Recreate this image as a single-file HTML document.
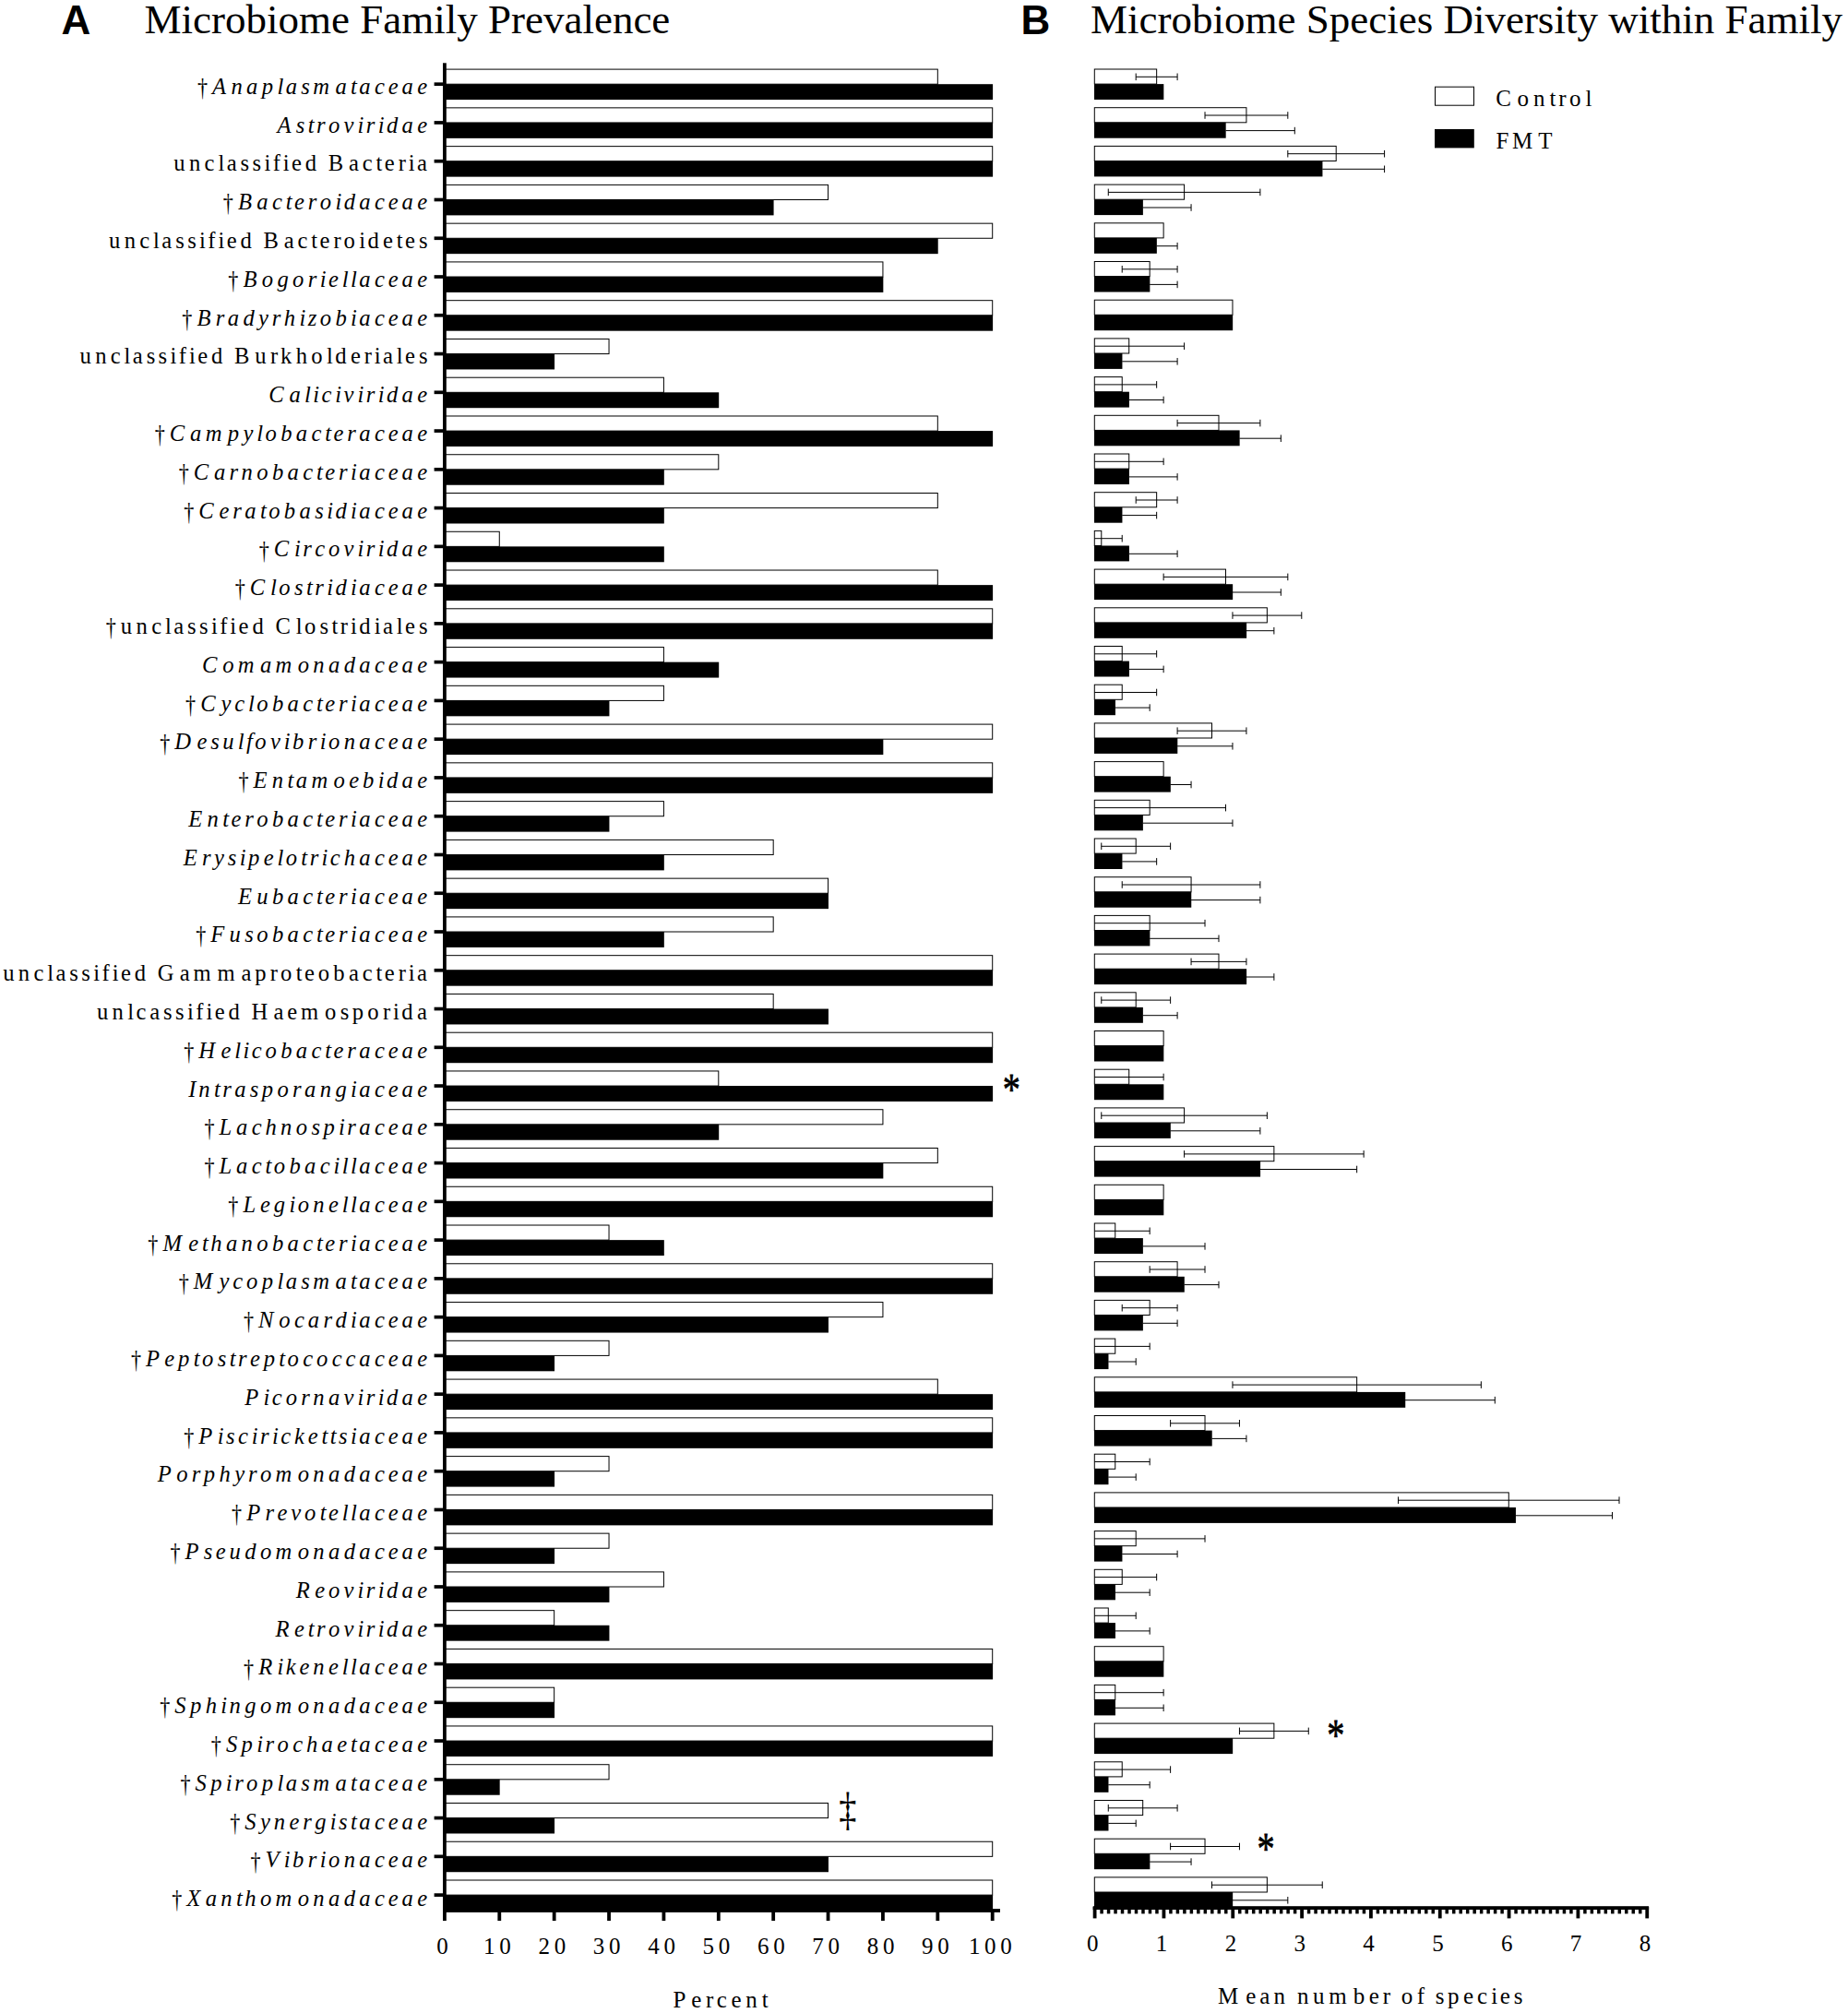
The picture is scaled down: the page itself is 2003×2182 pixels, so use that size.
<!DOCTYPE html>
<html><head><meta charset="utf-8"><title>Microbiome Family Prevalence / Species Diversity</title>
<style>html,body{margin:0;padding:0;background:#fff}svg{display:block}text{font-family:"Liberation Serif",serif;fill:#000}text{font-variant-ligatures:none;font-kerning:none}.l{font-size:24.6px}.i{font-style:italic}.t{font-size:25px}.h{font-size:45px}.p{font-family:"Liberation Sans",sans-serif;font-weight:bold;font-size:44px}.w{fill:#fff;stroke:#000;stroke-width:1}.k{fill:#000}.e{stroke:#000;stroke-width:1;fill:none}.s{font-size:44px;stroke:#000;stroke-width:.7px}</style></head><body>
<svg width="2003" height="2182" viewBox="0 0 2003 2182">
<rect width="2003" height="2182" fill="#fff"/>
<text class="p" x="66.5" y="37">A</text>
<text class="h" x="156.5" y="36.3">Microbiome Family Prevalence</text>
<text class="p" x="1106.5" y="37">B</text>
<text class="h" x="1182" y="36.3">Microbiome Species Diversity within Family</text>
<text class="l" transform="translate(219.56 84.83) scale(0.9 1.125) translate(-219.56 -84.83)" x="213.41" y="101.9">†</text>
<text class="l" y="101.9"><tspan class="i" x="230.07 250.43 267.1 283.76 300.43 309.69 326.35 339.32 363.39 380.06 389.32 405.98 420.78 435.57 452.23">Anaplasmataceae</tspan></text>
<rect class="w" x="481.9" y="75.1" width="534.42" height="16.1"/>
<rect class="k" x="481.9" y="91.2" width="594.2" height="16.9"/>
<rect class="w" x="1186.3" y="75" width="67.35" height="16.1"/>
<rect class="k" x="1186" y="91.1" width="75.33" height="16.9"/>
<path class="e" d="M1231.2 83.3H1276.1M1276.1 79.5V87.1M1231.2 79.5V87.1"/>
<text class="l" y="143.69"><tspan class="i" x="300.39 320.75 333.72 342.98 355.95 372.62 387.41 396.67 409.64 418.9 435.57 452.23">Astroviridae</tspan></text>
<rect class="w" x="481.9" y="116.86" width="593.8" height="16.1"/>
<rect class="k" x="481.9" y="132.96" width="594.2" height="16.9"/>
<rect class="w" x="1186.3" y="116.7" width="164.63" height="16.1"/>
<rect class="k" x="1186" y="132.8" width="142.68" height="16.9"/>
<path class="e" d="M1306.03 125H1395.82M1395.82 121.2V128.8M1306.03 121.2V128.8"/>
<path class="e" d="M1328.48 141.6H1403.31M1403.31 137.8V145.4"/>
<text class="l" y="185.49"><tspan x="188.26 204.92 221.59 236.38 245.64 260.44 273.41 286.38 295.64 306.74 316 330.79 347.45 355.79 378.02 392.81 407.6 416.86 431.66 442.76 452.02">unclassified Bacteria</tspan></text>
<rect class="w" x="481.9" y="158.63" width="593.8" height="16.1"/>
<rect class="k" x="481.9" y="174.73" width="594.2" height="16.9"/>
<rect class="w" x="1186.3" y="158.4" width="261.9" height="16.1"/>
<rect class="k" x="1186" y="174.5" width="247.44" height="16.9"/>
<path class="e" d="M1395.82 166.7H1500.59M1500.59 162.9V170.5M1395.82 162.9V170.5"/>
<path class="e" d="M1433.24 183.3H1500.59M1500.59 179.5V187.1"/>
<text class="l" transform="translate(247.37 210.21) scale(0.9 1.125) translate(-247.37 -210.21)" x="241.22" y="227.28">†</text>
<text class="l" y="227.28"><tspan class="i" x="257.88 278.24 294.91 309.7 318.96 333.76 346.73 363.39 372.65 389.32 405.98 420.78 435.57 452.23">Bacteroidaceae</tspan></text>
<rect class="w" x="481.9" y="200.39" width="415.66" height="16.1"/>
<rect class="k" x="481.9" y="216.49" width="356.68" height="16.9"/>
<rect class="w" x="1186.3" y="200.1" width="97.28" height="16.1"/>
<rect class="k" x="1186" y="216.2" width="52.88" height="16.9"/>
<path class="e" d="M1201.27 208.4H1365.89M1365.89 204.6V212.2M1201.27 204.6V212.2"/>
<path class="e" d="M1238.68 225H1291.06M1291.06 221.2V228.8"/>
<text class="l" y="269.07"><tspan x="117.98 134.64 151.31 166.1 175.36 190.16 203.13 216.1 225.36 236.46 245.72 260.51 277.18 285.51 307.74 322.53 337.33 346.59 361.38 372.48 389.14 398.4 415.07 429.86 439.12 453.92">unclassified Bacteroidetes</tspan></text>
<rect class="w" x="481.9" y="242.16" width="593.8" height="16.1"/>
<rect class="k" x="481.9" y="258.26" width="534.82" height="16.9"/>
<rect class="w" x="1186.3" y="241.8" width="74.83" height="16.1"/>
<rect class="k" x="1186" y="257.9" width="67.85" height="16.9"/>
<path class="e" d="M1253.65 266.7H1276.1M1276.1 262.9V270.5"/>
<text class="l" transform="translate(252.9 293.8) scale(0.9 1.125) translate(-252.9 -293.8)" x="246.75" y="310.87">†</text>
<text class="l" y="310.87"><tspan class="i" x="263.42 283.78 300.44 317.11 333.77 346.74 356 370.8 380.06 389.32 405.98 420.78 435.57 452.23">Bogoriellaceae</tspan></text>
<rect class="w" x="481.9" y="283.92" width="475.04" height="16.1"/>
<rect class="k" x="481.9" y="300.02" width="475.44" height="16.9"/>
<rect class="w" x="1186.3" y="283.5" width="59.86" height="16.1"/>
<rect class="k" x="1186" y="299.6" width="60.36" height="16.9"/>
<path class="e" d="M1216.23 291.8H1276.1M1276.1 288V295.6M1216.23 288V295.6"/>
<path class="e" d="M1246.16 308.4H1276.1M1276.1 304.6V312.2"/>
<text class="l" transform="translate(202.89 335.59) scale(0.9 1.125) translate(-202.89 -335.59)" x="196.74" y="352.66">†</text>
<text class="l" y="352.66"><tspan class="i" x="213.41 233.77 246.74 263.4 280.07 294.86 307.83 324.5 333.76 346.73 363.39 380.06 389.32 405.98 420.78 435.57 452.23">Bradyrhizobiaceae</tspan></text>
<rect class="w" x="481.9" y="325.68" width="593.8" height="16.1"/>
<rect class="k" x="481.9" y="341.78" width="594.2" height="16.9"/>
<rect class="w" x="1186.3" y="325.2" width="149.66" height="16.1"/>
<rect class="k" x="1186" y="341.3" width="150.16" height="16.9"/>
<text class="l" y="394.45"><tspan x="86.47 103.14 119.8 134.6 143.86 158.65 171.62 184.59 193.85 204.95 214.21 229 245.67 254 276.23 292.9 304 320.66 337.33 353.99 363.25 379.92 394.71 405.81 415.07 429.86 439.12 453.92">unclassified Burkholderiales</tspan></text>
<rect class="w" x="481.9" y="367.45" width="178.14" height="16.1"/>
<rect class="k" x="481.9" y="383.55" width="119.16" height="16.9"/>
<rect class="w" x="1186.3" y="366.9" width="37.41" height="16.1"/>
<rect class="k" x="1186" y="383" width="30.43" height="16.9"/>
<path class="e" d="M1186.3 375.2H1283.58M1283.58 371.4V379"/>
<path class="e" d="M1216.23 391.8H1276.1M1276.1 388V395.6"/>
<text class="l" y="436.24"><tspan class="i" x="291.15 313.38 330.05 339.31 348.57 363.36 372.62 387.41 396.67 409.64 418.9 435.57 452.23">Caliciviridae</tspan></text>
<rect class="w" x="481.9" y="409.21" width="237.52" height="16.1"/>
<rect class="k" x="481.9" y="425.31" width="297.3" height="16.9"/>
<rect class="w" x="1186.3" y="408.6" width="29.93" height="16.1"/>
<rect class="k" x="1186" y="424.7" width="37.91" height="16.9"/>
<path class="e" d="M1186.3 416.9H1253.65M1253.65 413.1V420.7"/>
<path class="e" d="M1223.71 433.5H1261.13M1261.13 429.7V437.3"/>
<text class="l" transform="translate(173.3 460.97) scale(0.9 1.125) translate(-173.3 -460.97)" x="167.15" y="478.04">†</text>
<text class="l" y="478.04"><tspan class="i" x="183.82 206.05 222.72 246.79 263.45 278.24 287.5 304.17 320.83 337.5 352.29 361.55 376.35 389.32 405.98 420.78 435.57 452.23">Campylobacteraceae</tspan></text>
<rect class="w" x="481.9" y="450.98" width="534.42" height="16.1"/>
<rect class="k" x="481.9" y="467.08" width="594.2" height="16.9"/>
<rect class="w" x="1186.3" y="450.3" width="134.69" height="16.1"/>
<rect class="k" x="1186" y="466.4" width="157.64" height="16.9"/>
<path class="e" d="M1276.1 458.6H1365.89M1365.89 454.8V462.4M1276.1 454.8V462.4"/>
<path class="e" d="M1343.44 475.2H1388.34M1388.34 471.4V479"/>
<text class="l" transform="translate(199.2 502.76) scale(0.9 1.125) translate(-199.2 -502.76)" x="193.05" y="519.83">†</text>
<text class="l" y="519.83"><tspan class="i" x="209.71 231.94 248.61 261.58 278.24 294.91 311.57 328.24 343.03 352.29 367.09 380.06 389.32 405.98 420.78 435.57 452.23">Carnobacteriaceae</tspan></text>
<rect class="w" x="481.9" y="492.74" width="296.9" height="16.1"/>
<rect class="k" x="481.9" y="508.84" width="237.92" height="16.9"/>
<rect class="w" x="1186.3" y="492" width="37.41" height="16.1"/>
<rect class="k" x="1186" y="508.1" width="37.91" height="16.9"/>
<path class="e" d="M1186.3 500.3H1261.13M1261.13 496.5V504.1"/>
<path class="e" d="M1223.71 516.9H1276.1M1276.1 513.1V520.7"/>
<text class="l" transform="translate(204.73 544.55) scale(0.9 1.125) translate(-204.73 -544.55)" x="198.58" y="561.62">†</text>
<text class="l" y="561.62"><tspan class="i" x="215.25 237.48 252.27 265.24 281.91 291.17 307.83 324.5 341.16 354.13 363.39 380.06 389.32 405.98 420.78 435.57 452.23">Ceratobasidiaceae</tspan></text>
<rect class="w" x="481.9" y="534.5" width="534.42" height="16.1"/>
<rect class="k" x="481.9" y="550.6" width="237.92" height="16.9"/>
<rect class="w" x="1186.3" y="533.7" width="67.35" height="16.1"/>
<rect class="k" x="1186" y="549.8" width="30.43" height="16.9"/>
<path class="e" d="M1231.2 542H1276.1M1276.1 538.2V545.8M1231.2 538.2V545.8"/>
<path class="e" d="M1216.23 558.6H1253.65M1253.65 554.8V562.4"/>
<text class="l" transform="translate(286.18 586.35) scale(0.9 1.125) translate(-286.18 -586.35)" x="280.03" y="603.42">†</text>
<text class="l" y="603.42"><tspan class="i" x="296.7 318.93 328.19 341.16 355.95 372.62 387.41 396.67 409.64 418.9 435.57 452.23">Circoviridae</tspan></text>
<rect class="w" x="481.9" y="576.27" width="59.38" height="16.1"/>
<rect class="k" x="481.9" y="592.37" width="237.92" height="16.9"/>
<rect class="w" x="1186.3" y="575.4" width="7.48" height="16.1"/>
<rect class="k" x="1186" y="591.5" width="37.91" height="16.9"/>
<path class="e" d="M1186.3 583.7H1216.23M1216.23 579.9V587.5"/>
<path class="e" d="M1223.71 600.3H1276.1M1276.1 596.5V604.1"/>
<text class="l" transform="translate(260.26 628.14) scale(0.9 1.125) translate(-260.26 -628.14)" x="254.11" y="645.21">†</text>
<text class="l" y="645.21"><tspan class="i" x="270.77 293.01 302.27 318.93 331.9 341.16 354.13 363.39 380.06 389.32 405.98 420.78 435.57 452.23">Clostridiaceae</tspan></text>
<rect class="w" x="481.9" y="618.03" width="534.42" height="16.1"/>
<rect class="k" x="481.9" y="634.13" width="594.2" height="16.9"/>
<rect class="w" x="1186.3" y="617.1" width="142.18" height="16.1"/>
<rect class="k" x="1186" y="633.2" width="150.16" height="16.9"/>
<path class="e" d="M1261.13 625.4H1395.82M1395.82 621.6V629.2M1261.13 621.6V629.2"/>
<path class="e" d="M1335.96 642H1388.34M1388.34 638.2V645.8"/>
<text class="l" transform="translate(120.35 669.93) scale(0.9 1.125) translate(-120.35 -669.93)" x="114.2" y="687">†</text>
<text class="l" y="687"><tspan x="130.87 147.53 164.2 178.99 188.25 203.05 216.02 228.99 238.25 249.35 258.61 273.4 290.06 298.4 320.63 329.89 346.55 359.52 368.78 379.88 389.14 405.81 415.07 429.86 439.12 453.92">unclassified Clostridiales</tspan></text>
<rect class="w" x="481.9" y="659.8" width="593.8" height="16.1"/>
<rect class="k" x="481.9" y="675.9" width="594.2" height="16.9"/>
<rect class="w" x="1186.3" y="658.8" width="187.07" height="16.1"/>
<rect class="k" x="1186" y="674.9" width="165.13" height="16.9"/>
<path class="e" d="M1335.96 667.1H1410.79M1410.79 663.3V670.9M1335.96 663.3V670.9"/>
<path class="e" d="M1350.93 683.7H1380.86M1380.86 679.9V687.5"/>
<text class="l" y="728.79"><tspan class="i" x="218.96 241.19 257.85 281.92 298.59 322.66 339.32 355.99 372.65 389.32 405.98 420.78 435.57 452.23">Comamonadaceae</tspan></text>
<rect class="w" x="481.9" y="701.56" width="237.52" height="16.1"/>
<rect class="k" x="481.9" y="717.66" width="297.3" height="16.9"/>
<rect class="w" x="1186.3" y="700.5" width="29.93" height="16.1"/>
<rect class="k" x="1186" y="716.6" width="37.91" height="16.9"/>
<path class="e" d="M1186.3 708.8H1253.65M1253.65 705V712.6"/>
<path class="e" d="M1223.71 725.4H1261.13M1261.13 721.6V729.2"/>
<text class="l" transform="translate(206.65 753.52) scale(0.9 1.125) translate(-206.65 -753.52)" x="200.5" y="770.59">†</text>
<text class="l" y="770.59"><tspan class="i" x="217.17 239.4 254.19 268.98 278.24 294.91 311.57 328.24 343.03 352.29 367.09 380.06 389.32 405.98 420.78 435.57 452.23">Cyclobacteriaceae</tspan></text>
<rect class="w" x="481.9" y="743.32" width="237.52" height="16.1"/>
<rect class="k" x="481.9" y="759.42" width="178.54" height="16.9"/>
<rect class="w" x="1186.3" y="742.2" width="29.93" height="16.1"/>
<rect class="k" x="1186" y="758.3" width="22.95" height="16.9"/>
<path class="e" d="M1186.3 750.5H1253.65M1253.65 746.7V754.3"/>
<path class="e" d="M1208.75 767.1H1246.16M1246.16 763.3V770.9"/>
<text class="l" transform="translate(178.84 795.31) scale(0.9 1.125) translate(-178.84 -795.31)" x="172.69" y="812.38">†</text>
<text class="l" y="812.38"><tspan class="i" x="189.35 213.42 228.22 241.19 257.85 267.11 276.37 293.04 307.83 317.09 333.76 346.73 355.99 372.65 389.32 405.98 420.78 435.57 452.23">Desulfovibrionaceae</tspan></text>
<rect class="w" x="481.9" y="785.09" width="593.8" height="16.1"/>
<rect class="k" x="481.9" y="801.19" width="475.44" height="16.9"/>
<rect class="w" x="1186.3" y="783.9" width="127.21" height="16.1"/>
<rect class="k" x="1186" y="800" width="90.3" height="16.9"/>
<path class="e" d="M1276.1 792.2H1350.93M1350.93 788.4V796M1276.1 788.4V796"/>
<path class="e" d="M1276.1 808.8H1335.96M1335.96 805V812.6"/>
<text class="l" transform="translate(263.99 837.11) scale(0.9 1.125) translate(-263.99 -837.11)" x="257.84" y="854.17">†</text>
<text class="l" y="854.17"><tspan class="i" x="274.5 294.86 311.53 320.79 337.45 361.52 378.19 392.98 409.64 418.9 435.57 452.23">Entamoebidae</tspan></text>
<rect class="w" x="481.9" y="826.85" width="593.8" height="16.1"/>
<rect class="k" x="481.9" y="842.95" width="594.2" height="16.9"/>
<rect class="w" x="1186.3" y="825.6" width="74.83" height="16.1"/>
<rect class="k" x="1186" y="841.7" width="82.81" height="16.9"/>
<path class="e" d="M1268.61 850.5H1291.06M1291.06 846.7V854.3"/>
<text class="l" y="895.97"><tspan class="i" x="204.2 224.55 241.22 250.48 265.27 278.24 294.91 311.57 328.24 343.03 352.29 367.09 380.06 389.32 405.98 420.78 435.57 452.23">Enterobacteriaceae</tspan></text>
<rect class="w" x="481.9" y="868.62" width="237.52" height="16.1"/>
<rect class="k" x="481.9" y="884.72" width="178.54" height="16.9"/>
<rect class="w" x="1186.3" y="867.3" width="59.86" height="16.1"/>
<rect class="k" x="1186" y="883.4" width="52.88" height="16.9"/>
<path class="e" d="M1186.3 875.6H1328.48M1328.48 871.8V879.4"/>
<path class="e" d="M1238.68 892.2H1335.96M1335.96 888.4V896"/>
<text class="l" y="937.76"><tspan class="i" x="198.63 218.99 231.96 246.75 259.72 268.98 285.65 300.44 309.7 326.37 335.63 348.6 357.86 372.65 389.32 405.98 420.78 435.57 452.23">Erysipelotrichaceae</tspan></text>
<rect class="w" x="481.9" y="910.38" width="356.28" height="16.1"/>
<rect class="k" x="481.9" y="926.48" width="237.92" height="16.9"/>
<rect class="w" x="1186.3" y="909" width="44.9" height="16.1"/>
<rect class="k" x="1186" y="925.1" width="30.43" height="16.9"/>
<path class="e" d="M1193.78 917.3H1268.61M1268.61 913.5V921.1M1193.78 913.5V921.1"/>
<path class="e" d="M1216.23 933.9H1253.65M1253.65 930.1V937.7"/>
<text class="l" y="979.55"><tspan class="i" x="257.88 278.24 294.91 311.57 328.24 343.03 352.29 367.09 380.06 389.32 405.98 420.78 435.57 452.23">Eubacteriaceae</tspan></text>
<rect class="w" x="481.9" y="952.14" width="415.66" height="16.1"/>
<rect class="k" x="481.9" y="968.24" width="416.06" height="16.9"/>
<rect class="w" x="1186.3" y="950.7" width="104.76" height="16.1"/>
<rect class="k" x="1186" y="966.8" width="105.26" height="16.9"/>
<path class="e" d="M1216.23 959H1365.89M1365.89 955.2V962.8M1216.23 955.2V962.8"/>
<path class="e" d="M1291.06 975.6H1365.89M1365.89 971.8V979.4"/>
<text class="l" transform="translate(217.73 1004.28) scale(0.9 1.125) translate(-217.73 -1004.28)" x="211.58" y="1021.35">†</text>
<text class="l" y="1021.35"><tspan class="i" x="228.25 248.61 265.27 278.24 294.91 311.57 328.24 343.03 352.29 367.09 380.06 389.32 405.98 420.78 435.57 452.23">Fusobacteriaceae</tspan></text>
<rect class="w" x="481.9" y="993.91" width="356.28" height="16.1"/>
<rect class="k" x="481.9" y="1010.01" width="237.92" height="16.9"/>
<rect class="w" x="1186.3" y="992.4" width="59.86" height="16.1"/>
<rect class="k" x="1186" y="1008.5" width="60.36" height="16.9"/>
<path class="e" d="M1186.3 1000.7H1306.03M1306.03 996.9V1004.5"/>
<path class="e" d="M1246.16 1017.3H1320.99M1320.99 1013.5V1021.1"/>
<text class="l" y="1063.14"><tspan x="3.17 19.83 36.5 51.29 60.55 75.35 88.32 101.29 110.55 121.65 130.91 145.7 162.37 170.7 194.77 209.56 235.49 261.41 276.21 292.87 303.97 320.63 329.89 344.69 361.35 378.02 392.81 407.6 416.86 431.66 442.76 452.02">unclassified Gammaproteobacteria</tspan></text>
<rect class="w" x="481.9" y="1035.67" width="593.8" height="16.1"/>
<rect class="k" x="481.9" y="1051.77" width="594.2" height="16.9"/>
<rect class="w" x="1186.3" y="1034.1" width="134.69" height="16.1"/>
<rect class="k" x="1186" y="1050.2" width="165.13" height="16.9"/>
<path class="e" d="M1291.06 1042.4H1350.93M1350.93 1038.6V1046.2M1291.06 1038.6V1046.2"/>
<path class="e" d="M1350.93 1059H1380.86M1380.86 1055.2V1062.8"/>
<text class="l" y="1104.93"><tspan x="104.92 121.58 138.25 147.51 162.3 177.09 190.06 203.04 212.3 223.39 232.65 247.45 264.11 272.45 296.52 311.31 326.1 352.03 368.69 381.66 398.33 414.99 426.09 435.35 452.02">unlcassified Haemosporida</tspan></text>
<rect class="w" x="481.9" y="1077.44" width="356.28" height="16.1"/>
<rect class="k" x="481.9" y="1093.54" width="416.06" height="16.9"/>
<rect class="w" x="1186.3" y="1075.8" width="44.9" height="16.1"/>
<rect class="k" x="1186" y="1091.9" width="52.88" height="16.9"/>
<path class="e" d="M1193.78 1084.1H1268.61M1268.61 1080.3V1087.9M1193.78 1080.3V1087.9"/>
<path class="e" d="M1238.68 1100.7H1276.1M1276.1 1096.9V1104.5"/>
<text class="l" transform="translate(204.81 1129.66) scale(0.9 1.125) translate(-204.81 -1129.66)" x="198.66" y="1146.73">†</text>
<text class="l" y="1146.73"><tspan class="i" x="215.33 239.4 254.19 263.45 272.71 287.5 304.17 320.83 337.5 352.29 361.55 376.35 389.32 405.98 420.78 435.57 452.23">Helicobacteraceae</tspan></text>
<rect class="w" x="481.9" y="1119.2" width="593.8" height="16.1"/>
<rect class="k" x="481.9" y="1135.3" width="594.2" height="16.9"/>
<rect class="w" x="1186.3" y="1117.5" width="74.83" height="16.1"/>
<rect class="k" x="1186" y="1133.6" width="75.33" height="16.9"/>
<text class="l" y="1188.52"><tspan class="i" x="204.13 215.23 231.89 241.15 254.13 270.79 283.76 300.43 317.09 330.06 346.73 363.39 380.06 389.32 405.98 420.78 435.57 452.23">Intrasporangiaceae</tspan></text>
<rect class="w" x="481.9" y="1160.96" width="296.9" height="16.1"/>
<rect class="k" x="481.9" y="1177.06" width="594.2" height="16.9"/>
<rect class="w" x="1186.3" y="1159.2" width="37.41" height="16.1"/>
<rect class="k" x="1186" y="1175.3" width="75.33" height="16.9"/>
<path class="e" d="M1186.3 1167.5H1261.13M1261.13 1163.7V1171.3"/>
<text class="l" transform="translate(226.95 1213.24) scale(0.9 1.125) translate(-226.95 -1213.24)" x="220.8" y="1230.31">†</text>
<text class="l" y="1230.31"><tspan class="i" x="237.46 256 272.66 287.46 304.12 320.79 337.45 350.42 367.09 376.35 389.32 405.98 420.78 435.57 452.23">Lachnospiraceae</tspan></text>
<rect class="w" x="481.9" y="1202.73" width="475.04" height="16.1"/>
<rect class="k" x="481.9" y="1218.83" width="297.3" height="16.9"/>
<rect class="w" x="1186.3" y="1200.9" width="97.28" height="16.1"/>
<rect class="k" x="1186" y="1217" width="82.81" height="16.9"/>
<path class="e" d="M1193.78 1209.2H1373.38M1373.38 1205.4V1213M1193.78 1205.4V1213"/>
<path class="e" d="M1268.61 1225.8H1365.89M1365.89 1222V1229.6"/>
<text class="l" transform="translate(226.98 1255.04) scale(0.9 1.125) translate(-226.98 -1255.04)" x="220.83" y="1272.1">†</text>
<text class="l" y="1272.1"><tspan class="i" x="237.49 256.03 272.69 287.49 296.75 313.41 330.08 346.74 361.54 370.8 380.06 389.32 405.98 420.78 435.57 452.23">Lactobacillaceae</tspan></text>
<rect class="w" x="481.9" y="1244.49" width="534.42" height="16.1"/>
<rect class="k" x="481.9" y="1260.59" width="475.44" height="16.9"/>
<rect class="w" x="1186.3" y="1242.6" width="194.56" height="16.1"/>
<rect class="k" x="1186" y="1258.7" width="180.09" height="16.9"/>
<path class="e" d="M1283.58 1250.9H1478.14M1478.14 1247.1V1254.7M1283.58 1247.1V1254.7"/>
<path class="e" d="M1365.89 1267.5H1470.65M1470.65 1263.7V1271.3"/>
<text class="l" transform="translate(252.9 1296.83) scale(0.9 1.125) translate(-252.9 -1296.83)" x="246.75" y="1313.9">†</text>
<text class="l" y="1313.9"><tspan class="i" x="263.42 281.95 296.75 313.41 322.67 339.34 356 370.8 380.06 389.32 405.98 420.78 435.57 452.23">Legionellaceae</tspan></text>
<rect class="w" x="481.9" y="1286.26" width="593.8" height="16.1"/>
<rect class="k" x="481.9" y="1302.36" width="594.2" height="16.9"/>
<rect class="w" x="1186.3" y="1284.3" width="74.83" height="16.1"/>
<rect class="k" x="1186" y="1300.4" width="75.33" height="16.9"/>
<text class="l" transform="translate(165.92 1338.62) scale(0.9 1.125) translate(-165.92 -1338.62)" x="159.77" y="1355.69">†</text>
<text class="l" y="1355.69"><tspan class="i" x="176.43 204.2 218.99 228.25 244.91 261.58 278.24 294.91 311.57 328.24 343.03 352.29 367.09 380.06 389.32 405.98 420.78 435.57 452.23">Methanobacteriaceae</tspan></text>
<rect class="w" x="481.9" y="1328.02" width="178.14" height="16.1"/>
<rect class="k" x="481.9" y="1344.12" width="237.92" height="16.9"/>
<rect class="w" x="1186.3" y="1326" width="22.45" height="16.1"/>
<rect class="k" x="1186" y="1342.1" width="52.88" height="16.9"/>
<path class="e" d="M1186.3 1334.3H1246.16M1246.16 1330.5V1338.1"/>
<path class="e" d="M1238.68 1350.9H1306.03M1306.03 1347.1V1354.7"/>
<text class="l" transform="translate(199.23 1380.41) scale(0.9 1.125) translate(-199.23 -1380.41)" x="193.08" y="1397.48">†</text>
<text class="l" y="1397.48"><tspan class="i" x="209.75 237.51 252.3 267.1 283.76 300.43 309.69 326.35 339.32 363.39 380.06 389.32 405.98 420.78 435.57 452.23">Mycoplasmataceae</tspan></text>
<rect class="w" x="481.9" y="1369.78" width="593.8" height="16.1"/>
<rect class="k" x="481.9" y="1385.88" width="594.2" height="16.9"/>
<rect class="w" x="1186.3" y="1367.7" width="89.8" height="16.1"/>
<rect class="k" x="1186" y="1383.8" width="97.78" height="16.9"/>
<path class="e" d="M1246.16 1376H1306.03M1306.03 1372.2V1379.8M1246.16 1372.2V1379.8"/>
<path class="e" d="M1283.58 1392.6H1320.99M1320.99 1388.8V1396.4"/>
<text class="l" transform="translate(269.55 1422.21) scale(0.9 1.125) translate(-269.55 -1422.21)" x="263.4" y="1439.28">†</text>
<text class="l" y="1439.28"><tspan class="i" x="280.07 302.3 318.96 333.76 350.42 363.39 380.06 389.32 405.98 420.78 435.57 452.23">Nocardiaceae</tspan></text>
<rect class="w" x="481.9" y="1411.55" width="475.04" height="16.1"/>
<rect class="k" x="481.9" y="1427.65" width="416.06" height="16.9"/>
<rect class="w" x="1186.3" y="1409.4" width="59.86" height="16.1"/>
<rect class="k" x="1186" y="1425.5" width="52.88" height="16.9"/>
<path class="e" d="M1216.23 1417.7H1276.1M1276.1 1413.9V1421.5M1216.23 1413.9V1421.5"/>
<path class="e" d="M1238.68 1434.3H1276.1M1276.1 1430.5V1438.1"/>
<text class="l" transform="translate(147.43 1464) scale(0.9 1.125) translate(-147.43 -1464)" x="141.28" y="1481.07">†</text>
<text class="l" y="1481.07"><tspan class="i" x="157.94 178.3 193.1 209.76 219.02 235.69 248.66 257.92 270.89 285.68 302.35 311.61 328.27 343.07 359.73 374.52 389.32 405.98 420.78 435.57 452.23">Peptostreptococcaceae</tspan></text>
<rect class="w" x="481.9" y="1453.31" width="178.14" height="16.1"/>
<rect class="k" x="481.9" y="1469.41" width="119.16" height="16.9"/>
<rect class="w" x="1186.3" y="1451.1" width="22.45" height="16.1"/>
<rect class="k" x="1186" y="1467.2" width="15.47" height="16.9"/>
<path class="e" d="M1186.3 1459.4H1246.16M1246.16 1455.6V1463.2"/>
<path class="e" d="M1201.27 1476H1231.2M1231.2 1472.2V1479.8"/>
<text class="l" y="1522.86"><tspan class="i" x="265.24 285.6 294.86 309.65 326.32 339.29 355.95 372.62 387.41 396.67 409.64 418.9 435.57 452.23">Picornaviridae</tspan></text>
<rect class="w" x="481.9" y="1495.08" width="534.42" height="16.1"/>
<rect class="k" x="481.9" y="1511.18" width="594.2" height="16.9"/>
<rect class="w" x="1186.3" y="1492.8" width="284.35" height="16.1"/>
<rect class="k" x="1186" y="1508.9" width="337.24" height="16.9"/>
<path class="e" d="M1335.96 1501.1H1605.35M1605.35 1497.3V1504.9M1335.96 1497.3V1504.9"/>
<path class="e" d="M1523.03 1517.7H1620.31M1620.31 1513.9V1521.5"/>
<text class="l" transform="translate(204.8 1547.59) scale(0.9 1.125) translate(-204.8 -1547.59)" x="198.65" y="1564.65">†</text>
<text class="l" y="1564.65"><tspan class="i" x="215.31 235.67 244.93 257.9 272.69 281.95 294.93 304.19 318.98 333.77 348.57 357.83 367.09 380.06 389.32 405.98 420.78 435.57 452.23">Piscirickettsiaceae</tspan></text>
<rect class="w" x="481.9" y="1536.84" width="593.8" height="16.1"/>
<rect class="k" x="481.9" y="1552.94" width="594.2" height="16.9"/>
<rect class="w" x="1186.3" y="1534.5" width="119.73" height="16.1"/>
<rect class="k" x="1186" y="1550.6" width="127.71" height="16.9"/>
<path class="e" d="M1268.61 1542.8H1343.44M1343.44 1539V1546.6M1268.61 1539V1546.6"/>
<path class="e" d="M1313.51 1559.4H1350.93M1350.93 1555.6V1563.2"/>
<text class="l" y="1606.45"><tspan class="i" x="170.83 191.19 207.86 220.83 237.49 254.16 268.95 281.92 298.59 322.66 339.32 355.99 372.65 389.32 405.98 420.78 435.57 452.23">Porphyromonadaceae</tspan></text>
<rect class="w" x="481.9" y="1578.6" width="178.14" height="16.1"/>
<rect class="k" x="481.9" y="1594.7" width="119.16" height="16.9"/>
<rect class="w" x="1186.3" y="1576.2" width="22.45" height="16.1"/>
<rect class="k" x="1186" y="1592.3" width="15.47" height="16.9"/>
<path class="e" d="M1186.3 1584.5H1246.16M1246.16 1580.7V1588.3"/>
<path class="e" d="M1201.27 1601.1H1231.2M1231.2 1597.3V1604.9"/>
<text class="l" transform="translate(256.65 1631.17) scale(0.9 1.125) translate(-256.65 -1631.17)" x="250.5" y="1648.24">†</text>
<text class="l" y="1648.24"><tspan class="i" x="267.16 287.52 300.49 315.28 330.08 346.74 356 370.8 380.06 389.32 405.98 420.78 435.57 452.23">Prevotellaceae</tspan></text>
<rect class="w" x="481.9" y="1620.37" width="593.8" height="16.1"/>
<rect class="k" x="481.9" y="1636.47" width="594.2" height="16.9"/>
<rect class="w" x="1186.3" y="1617.9" width="448.98" height="16.1"/>
<rect class="k" x="1186" y="1634" width="456.96" height="16.9"/>
<path class="e" d="M1515.55 1626.2H1755.01M1755.01 1622.4V1630M1515.55 1622.4V1630"/>
<path class="e" d="M1642.76 1642.8H1747.53M1747.53 1639V1646.6"/>
<text class="l" transform="translate(189.95 1672.97) scale(0.9 1.125) translate(-189.95 -1672.97)" x="183.8" y="1690.03">†</text>
<text class="l" y="1690.03"><tspan class="i" x="200.47 220.83 233.8 248.59 265.26 281.92 298.59 322.66 339.32 355.99 372.65 389.32 405.98 420.78 435.57 452.23">Pseudomonadaceae</tspan></text>
<rect class="w" x="481.9" y="1662.13" width="178.14" height="16.1"/>
<rect class="k" x="481.9" y="1678.23" width="119.16" height="16.9"/>
<rect class="w" x="1186.3" y="1659.6" width="44.9" height="16.1"/>
<rect class="k" x="1186" y="1675.7" width="30.43" height="16.9"/>
<path class="e" d="M1186.3 1667.9H1306.03M1306.03 1664.1V1671.7"/>
<path class="e" d="M1216.23 1684.5H1276.1M1276.1 1680.7V1688.3"/>
<text class="l" y="1731.83"><tspan class="i" x="320.8 341.16 355.95 372.62 387.41 396.67 409.64 418.9 435.57 452.23">Reoviridae</tspan></text>
<rect class="w" x="481.9" y="1703.9" width="237.52" height="16.1"/>
<rect class="k" x="481.9" y="1720" width="178.54" height="16.9"/>
<rect class="w" x="1186.3" y="1701.3" width="29.93" height="16.1"/>
<rect class="k" x="1186" y="1717.4" width="22.95" height="16.9"/>
<path class="e" d="M1186.3 1709.6H1253.65M1253.65 1705.8V1713.4"/>
<path class="e" d="M1208.75 1726.2H1246.16M1246.16 1722.4V1730"/>
<text class="l" y="1773.62"><tspan class="i" x="298.57 318.93 333.72 342.98 355.95 372.62 387.41 396.67 409.64 418.9 435.57 452.23">Retroviridae</tspan></text>
<rect class="w" x="481.9" y="1745.66" width="118.76" height="16.1"/>
<rect class="k" x="481.9" y="1761.76" width="178.54" height="16.9"/>
<rect class="w" x="1186.3" y="1743" width="14.97" height="16.1"/>
<rect class="k" x="1186" y="1759.1" width="22.95" height="16.9"/>
<path class="e" d="M1186.3 1751.3H1231.2M1231.2 1747.5V1755.1"/>
<path class="e" d="M1208.75 1767.9H1246.16M1246.16 1764.1V1771.7"/>
<text class="l" transform="translate(269.62 1798.34) scale(0.9 1.125) translate(-269.62 -1798.34)" x="263.47" y="1815.41">†</text>
<text class="l" y="1815.41"><tspan class="i" x="280.13 300.49 309.75 324.54 339.34 356 370.8 380.06 389.32 405.98 420.78 435.57 452.23">Rikenellaceae</tspan></text>
<rect class="w" x="481.9" y="1787.42" width="593.8" height="16.1"/>
<rect class="k" x="481.9" y="1803.52" width="594.2" height="16.9"/>
<rect class="w" x="1186.3" y="1784.7" width="74.83" height="16.1"/>
<rect class="k" x="1186" y="1800.8" width="75.33" height="16.9"/>
<text class="l" transform="translate(178.82 1840.14) scale(0.9 1.125) translate(-178.82 -1840.14)" x="172.67" y="1857.21">†</text>
<text class="l" y="1857.21"><tspan class="i" x="189.34 206 222.67 239.33 248.59 265.26 281.92 298.59 322.66 339.32 355.99 372.65 389.32 405.98 420.78 435.57 452.23">Sphingomonadaceae</tspan></text>
<rect class="w" x="481.9" y="1829.19" width="118.76" height="16.1"/>
<rect class="k" x="481.9" y="1845.29" width="119.16" height="16.9"/>
<rect class="w" x="1186.3" y="1826.4" width="22.45" height="16.1"/>
<rect class="k" x="1186" y="1842.5" width="22.95" height="16.9"/>
<path class="e" d="M1186.3 1834.7H1261.13M1261.13 1830.9V1838.5"/>
<path class="e" d="M1208.75 1851.3H1261.13M1261.13 1847.5V1855.1"/>
<text class="l" transform="translate(234.4 1881.93) scale(0.9 1.125) translate(-234.4 -1881.93)" x="228.25" y="1899">†</text>
<text class="l" y="1899"><tspan class="i" x="244.91 261.58 278.24 287.5 300.47 317.14 331.93 348.6 365.26 380.06 389.32 405.98 420.78 435.57 452.23">Spirochaetaceae</tspan></text>
<rect class="w" x="481.9" y="1870.95" width="593.8" height="16.1"/>
<rect class="k" x="481.9" y="1887.05" width="594.2" height="16.9"/>
<rect class="w" x="1186.3" y="1868.1" width="194.56" height="16.1"/>
<rect class="k" x="1186" y="1884.2" width="150.16" height="16.9"/>
<path class="e" d="M1343.44 1876.4H1418.27M1418.27 1872.6V1880.2M1343.44 1872.6V1880.2"/>
<text class="l" transform="translate(201.02 1923.72) scale(0.9 1.125) translate(-201.02 -1923.72)" x="194.87" y="1940.79">†</text>
<text class="l" y="1940.79"><tspan class="i" x="211.54 228.2 244.87 254.13 267.1 283.76 300.43 309.69 326.35 339.32 363.39 380.06 389.32 405.98 420.78 435.57 452.23">Spiroplasmataceae</tspan></text>
<rect class="w" x="481.9" y="1912.72" width="178.14" height="16.1"/>
<rect class="k" x="481.9" y="1928.82" width="59.78" height="16.9"/>
<rect class="w" x="1186.3" y="1909.8" width="29.93" height="16.1"/>
<rect class="k" x="1186" y="1925.9" width="15.47" height="16.9"/>
<path class="e" d="M1186.3 1918.1H1268.61M1268.61 1914.3V1921.9"/>
<path class="e" d="M1201.27 1934.7H1246.16M1246.16 1930.9V1938.5"/>
<text class="l" transform="translate(254.76 1965.52) scale(0.9 1.125) translate(-254.76 -1965.52)" x="248.61" y="1982.59">†</text>
<text class="l" y="1982.59"><tspan class="i" x="265.27 281.94 296.73 313.4 328.19 341.16 357.83 367.09 380.06 389.32 405.98 420.78 435.57 452.23">Synergistaceae</tspan></text>
<rect class="w" x="481.9" y="1954.48" width="415.66" height="16.1"/>
<rect class="k" x="481.9" y="1970.58" width="119.16" height="16.9"/>
<rect class="w" x="1186.3" y="1951.5" width="52.38" height="16.1"/>
<rect class="k" x="1186" y="1967.6" width="15.47" height="16.9"/>
<path class="e" d="M1201.27 1959.8H1276.1M1276.1 1956V1963.6M1201.27 1956V1963.6"/>
<path class="e" d="M1201.27 1976.4H1231.2M1231.2 1972.6V1980.2"/>
<text class="l" transform="translate(276.96 2007.31) scale(0.9 1.125) translate(-276.96 -2007.31)" x="270.81" y="2024.38">†</text>
<text class="l" y="2024.38"><tspan class="i" x="287.47 307.83 317.09 333.76 346.73 355.99 372.65 389.32 405.98 420.78 435.57 452.23">Vibrionaceae</tspan></text>
<rect class="w" x="481.9" y="1996.24" width="593.8" height="16.1"/>
<rect class="k" x="481.9" y="2012.34" width="416.06" height="16.9"/>
<rect class="w" x="1186.3" y="1993.2" width="119.73" height="16.1"/>
<rect class="k" x="1186" y="2009.3" width="60.36" height="16.9"/>
<path class="e" d="M1268.61 2001.5H1343.44M1343.44 1997.7V2005.3M1268.61 1997.7V2005.3"/>
<path class="e" d="M1246.16 2018.1H1291.06M1291.06 2014.3V2021.9"/>
<text class="l" transform="translate(191.79 2049.1) scale(0.9 1.125) translate(-191.79 -2049.1)" x="185.64" y="2066.17">†</text>
<text class="l" y="2066.17"><tspan class="i" x="202.31 222.67 239.33 256 265.26 281.92 298.59 322.66 339.32 355.99 372.65 389.32 405.98 420.78 435.57 452.23">Xanthomonadaceae</tspan></text>
<rect class="w" x="481.9" y="2038.01" width="593.8" height="16.1"/>
<rect class="k" x="481.9" y="2054.11" width="594.2" height="16.9"/>
<rect class="w" x="1186.3" y="2034.9" width="187.07" height="16.1"/>
<rect class="k" x="1186" y="2051" width="150.16" height="16.9"/>
<path class="e" d="M1313.51 2043.2H1433.24M1433.24 2039.4V2047M1313.51 2039.4V2047"/>
<path class="e" d="M1335.96 2059.8H1395.82M1395.82 2056V2063.6"/>
<g fill="#000">
<rect x="480" y="68.3" width="3.8" height="2004.6"/>
<rect x="480" y="2069.1" width="604" height="3.8"/>
<rect x="470.6" y="89.35" width="10" height="3.7"/>
<rect x="470.6" y="131.11" width="10" height="3.7"/>
<rect x="470.6" y="172.88" width="10" height="3.7"/>
<rect x="470.6" y="214.64" width="10" height="3.7"/>
<rect x="470.6" y="256.41" width="10" height="3.7"/>
<rect x="470.6" y="298.17" width="10" height="3.7"/>
<rect x="470.6" y="339.93" width="10" height="3.7"/>
<rect x="470.6" y="381.7" width="10" height="3.7"/>
<rect x="470.6" y="423.46" width="10" height="3.7"/>
<rect x="470.6" y="465.23" width="10" height="3.7"/>
<rect x="470.6" y="506.99" width="10" height="3.7"/>
<rect x="470.6" y="548.75" width="10" height="3.7"/>
<rect x="470.6" y="590.52" width="10" height="3.7"/>
<rect x="470.6" y="632.28" width="10" height="3.7"/>
<rect x="470.6" y="674.05" width="10" height="3.7"/>
<rect x="470.6" y="715.81" width="10" height="3.7"/>
<rect x="470.6" y="757.57" width="10" height="3.7"/>
<rect x="470.6" y="799.34" width="10" height="3.7"/>
<rect x="470.6" y="841.1" width="10" height="3.7"/>
<rect x="470.6" y="882.87" width="10" height="3.7"/>
<rect x="470.6" y="924.63" width="10" height="3.7"/>
<rect x="470.6" y="966.39" width="10" height="3.7"/>
<rect x="470.6" y="1008.16" width="10" height="3.7"/>
<rect x="470.6" y="1049.92" width="10" height="3.7"/>
<rect x="470.6" y="1091.69" width="10" height="3.7"/>
<rect x="470.6" y="1133.45" width="10" height="3.7"/>
<rect x="470.6" y="1175.21" width="10" height="3.7"/>
<rect x="470.6" y="1216.98" width="10" height="3.7"/>
<rect x="470.6" y="1258.74" width="10" height="3.7"/>
<rect x="470.6" y="1300.51" width="10" height="3.7"/>
<rect x="470.6" y="1342.27" width="10" height="3.7"/>
<rect x="470.6" y="1384.03" width="10" height="3.7"/>
<rect x="470.6" y="1425.8" width="10" height="3.7"/>
<rect x="470.6" y="1467.56" width="10" height="3.7"/>
<rect x="470.6" y="1509.33" width="10" height="3.7"/>
<rect x="470.6" y="1551.09" width="10" height="3.7"/>
<rect x="470.6" y="1592.85" width="10" height="3.7"/>
<rect x="470.6" y="1634.62" width="10" height="3.7"/>
<rect x="470.6" y="1676.38" width="10" height="3.7"/>
<rect x="470.6" y="1718.15" width="10" height="3.7"/>
<rect x="470.6" y="1759.91" width="10" height="3.7"/>
<rect x="470.6" y="1801.67" width="10" height="3.7"/>
<rect x="470.6" y="1843.44" width="10" height="3.7"/>
<rect x="470.6" y="1885.2" width="10" height="3.7"/>
<rect x="470.6" y="1926.97" width="10" height="3.7"/>
<rect x="470.6" y="1968.73" width="10" height="3.7"/>
<rect x="470.6" y="2010.49" width="10" height="3.7"/>
<rect x="470.6" y="2052.26" width="10" height="3.7"/>
<rect x="480" y="2070" width="3.8" height="12"/>
<rect x="539.38" y="2070" width="3.8" height="12"/>
<rect x="598.76" y="2070" width="3.8" height="12"/>
<rect x="658.14" y="2070" width="3.8" height="12"/>
<rect x="717.52" y="2070" width="3.8" height="12"/>
<rect x="776.9" y="2070" width="3.8" height="12"/>
<rect x="836.28" y="2070" width="3.8" height="12"/>
<rect x="895.66" y="2070" width="3.8" height="12"/>
<rect x="955.04" y="2070" width="3.8" height="12"/>
<rect x="1014.42" y="2070" width="3.8" height="12"/>
<rect x="1073.8" y="2070" width="3.8" height="12"/>
<rect x="1184.7" y="2066.2" width="602.4" height="3.8"/>
<rect x="1184.7" y="2067" width="3.8" height="12.4"/>
<rect x="1192.33" y="2067" width="3.5" height="7.4"/>
<rect x="1199.82" y="2067" width="3.5" height="7.4"/>
<rect x="1207.3" y="2067" width="3.5" height="7.4"/>
<rect x="1214.78" y="2067" width="3.5" height="7.4"/>
<rect x="1222.26" y="2067" width="3.5" height="7.4"/>
<rect x="1229.75" y="2067" width="3.5" height="7.4"/>
<rect x="1237.23" y="2067" width="3.5" height="7.4"/>
<rect x="1244.71" y="2067" width="3.5" height="7.4"/>
<rect x="1252.2" y="2067" width="3.5" height="7.4"/>
<rect x="1259.53" y="2067" width="3.8" height="12.4"/>
<rect x="1267.16" y="2067" width="3.5" height="7.4"/>
<rect x="1274.65" y="2067" width="3.5" height="7.4"/>
<rect x="1282.13" y="2067" width="3.5" height="7.4"/>
<rect x="1289.61" y="2067" width="3.5" height="7.4"/>
<rect x="1297.09" y="2067" width="3.5" height="7.4"/>
<rect x="1304.58" y="2067" width="3.5" height="7.4"/>
<rect x="1312.06" y="2067" width="3.5" height="7.4"/>
<rect x="1319.54" y="2067" width="3.5" height="7.4"/>
<rect x="1327.03" y="2067" width="3.5" height="7.4"/>
<rect x="1334.36" y="2067" width="3.8" height="12.4"/>
<rect x="1341.99" y="2067" width="3.5" height="7.4"/>
<rect x="1349.48" y="2067" width="3.5" height="7.4"/>
<rect x="1356.96" y="2067" width="3.5" height="7.4"/>
<rect x="1364.44" y="2067" width="3.5" height="7.4"/>
<rect x="1371.92" y="2067" width="3.5" height="7.4"/>
<rect x="1379.41" y="2067" width="3.5" height="7.4"/>
<rect x="1386.89" y="2067" width="3.5" height="7.4"/>
<rect x="1394.37" y="2067" width="3.5" height="7.4"/>
<rect x="1401.86" y="2067" width="3.5" height="7.4"/>
<rect x="1409.19" y="2067" width="3.8" height="12.4"/>
<rect x="1416.82" y="2067" width="3.5" height="7.4"/>
<rect x="1424.31" y="2067" width="3.5" height="7.4"/>
<rect x="1431.79" y="2067" width="3.5" height="7.4"/>
<rect x="1439.27" y="2067" width="3.5" height="7.4"/>
<rect x="1446.75" y="2067" width="3.5" height="7.4"/>
<rect x="1454.24" y="2067" width="3.5" height="7.4"/>
<rect x="1461.72" y="2067" width="3.5" height="7.4"/>
<rect x="1469.2" y="2067" width="3.5" height="7.4"/>
<rect x="1476.69" y="2067" width="3.5" height="7.4"/>
<rect x="1484.02" y="2067" width="3.8" height="12.4"/>
<rect x="1491.65" y="2067" width="3.5" height="7.4"/>
<rect x="1499.14" y="2067" width="3.5" height="7.4"/>
<rect x="1506.62" y="2067" width="3.5" height="7.4"/>
<rect x="1514.1" y="2067" width="3.5" height="7.4"/>
<rect x="1521.59" y="2067" width="3.5" height="7.4"/>
<rect x="1529.07" y="2067" width="3.5" height="7.4"/>
<rect x="1536.55" y="2067" width="3.5" height="7.4"/>
<rect x="1544.03" y="2067" width="3.5" height="7.4"/>
<rect x="1551.52" y="2067" width="3.5" height="7.4"/>
<rect x="1558.85" y="2067" width="3.8" height="12.4"/>
<rect x="1566.48" y="2067" width="3.5" height="7.4"/>
<rect x="1573.97" y="2067" width="3.5" height="7.4"/>
<rect x="1581.45" y="2067" width="3.5" height="7.4"/>
<rect x="1588.93" y="2067" width="3.5" height="7.4"/>
<rect x="1596.41" y="2067" width="3.5" height="7.4"/>
<rect x="1603.9" y="2067" width="3.5" height="7.4"/>
<rect x="1611.38" y="2067" width="3.5" height="7.4"/>
<rect x="1618.86" y="2067" width="3.5" height="7.4"/>
<rect x="1626.35" y="2067" width="3.5" height="7.4"/>
<rect x="1633.68" y="2067" width="3.8" height="12.4"/>
<rect x="1641.31" y="2067" width="3.5" height="7.4"/>
<rect x="1648.8" y="2067" width="3.5" height="7.4"/>
<rect x="1656.28" y="2067" width="3.5" height="7.4"/>
<rect x="1663.76" y="2067" width="3.5" height="7.4"/>
<rect x="1671.24" y="2067" width="3.5" height="7.4"/>
<rect x="1678.73" y="2067" width="3.5" height="7.4"/>
<rect x="1686.21" y="2067" width="3.5" height="7.4"/>
<rect x="1693.69" y="2067" width="3.5" height="7.4"/>
<rect x="1701.18" y="2067" width="3.5" height="7.4"/>
<rect x="1708.51" y="2067" width="3.8" height="12.4"/>
<rect x="1716.14" y="2067" width="3.5" height="7.4"/>
<rect x="1723.63" y="2067" width="3.5" height="7.4"/>
<rect x="1731.11" y="2067" width="3.5" height="7.4"/>
<rect x="1738.59" y="2067" width="3.5" height="7.4"/>
<rect x="1746.07" y="2067" width="3.5" height="7.4"/>
<rect x="1753.56" y="2067" width="3.5" height="7.4"/>
<rect x="1761.04" y="2067" width="3.5" height="7.4"/>
<rect x="1768.52" y="2067" width="3.5" height="7.4"/>
<rect x="1776.01" y="2067" width="3.5" height="7.4"/>
<rect x="1783.34" y="2067" width="3.8" height="12.4"/>
</g>
<text class="t" y="2118.2"><tspan x="473.3">0</tspan></text>
<text class="t" y="2118.2"><tspan x="524.08 541.28">10</tspan></text>
<text class="t" y="2118.2"><tspan x="583.46 600.66">20</tspan></text>
<text class="t" y="2118.2"><tspan x="642.84 660.04">30</tspan></text>
<text class="t" y="2118.2"><tspan x="702.22 719.42">40</tspan></text>
<text class="t" y="2118.2"><tspan x="761.6 778.8">50</tspan></text>
<text class="t" y="2118.2"><tspan x="820.98 838.18">60</tspan></text>
<text class="t" y="2118.2"><tspan x="880.36 897.56">70</tspan></text>
<text class="t" y="2118.2"><tspan x="939.74 956.94">80</tspan></text>
<text class="t" y="2118.2"><tspan x="999.12 1016.32">90</tspan></text>
<text class="t" y="2118.2"><tspan x="1049.9 1067.1 1084.3">100</tspan></text>
<text class="t" y="2115.4"><tspan x="1178">0</tspan></text>
<text class="t" y="2115.4"><tspan x="1252.83">1</tspan></text>
<text class="t" y="2115.4"><tspan x="1327.66">2</tspan></text>
<text class="t" y="2115.4"><tspan x="1402.49">3</tspan></text>
<text class="t" y="2115.4"><tspan x="1477.32">4</tspan></text>
<text class="t" y="2115.4"><tspan x="1552.15">5</tspan></text>
<text class="t" y="2115.4"><tspan x="1626.98">6</tspan></text>
<text class="t" y="2115.4"><tspan x="1701.81">7</tspan></text>
<text class="t" y="2115.4"><tspan x="1776.64">8</tspan></text>
<text class="t" y="2175.9"><tspan x="729.53 749.22 764.93 776.72 792.43 808.14 825.84">Percent</tspan></text>
<text class="t" y="2172"><tspan x="1319.88 1350.2 1365.34 1380.47 1397.52 1406.05 1423.1 1440.15 1466.67 1483.72 1498.85 1510.21 1518.74 1535.79 1547.14 1555.67 1568.94 1585.99 1601.12 1616.26 1625.73 1640.87">Mean number of species</tspan></text>
<rect class="w" x="1555.5" y="94.2" width="42" height="20"/>
<rect class="k" x="1555" y="140" width="42.8" height="20.4"/>
<text class="t" y="115.3"><tspan x="1621.22 1644.57 1662.07 1679.57 1689.29 1700.95 1718.45">Control</tspan></text>
<text class="t" y="161.2"><tspan x="1621.53 1639.1 1667.2">FMT</tspan></text>
<text class="s" text-anchor="middle" transform="translate(1096.2 1174) scale(0.87 1.1)" x="0" y="20.6">*</text>
<text class="s" text-anchor="middle" transform="translate(1447.7 1873.9) scale(0.87 1.1)" x="0" y="20.6">*</text>
<text class="s" text-anchor="middle" transform="translate(1372 1997.8) scale(0.87 1.1)" x="0" y="20.6">*</text>
<text class="s" style="stroke:none" text-anchor="middle" transform="translate(918.7 1963.25) scale(0.87 1.15)" x="0" y="13.1">‡</text>
</svg></body></html>
